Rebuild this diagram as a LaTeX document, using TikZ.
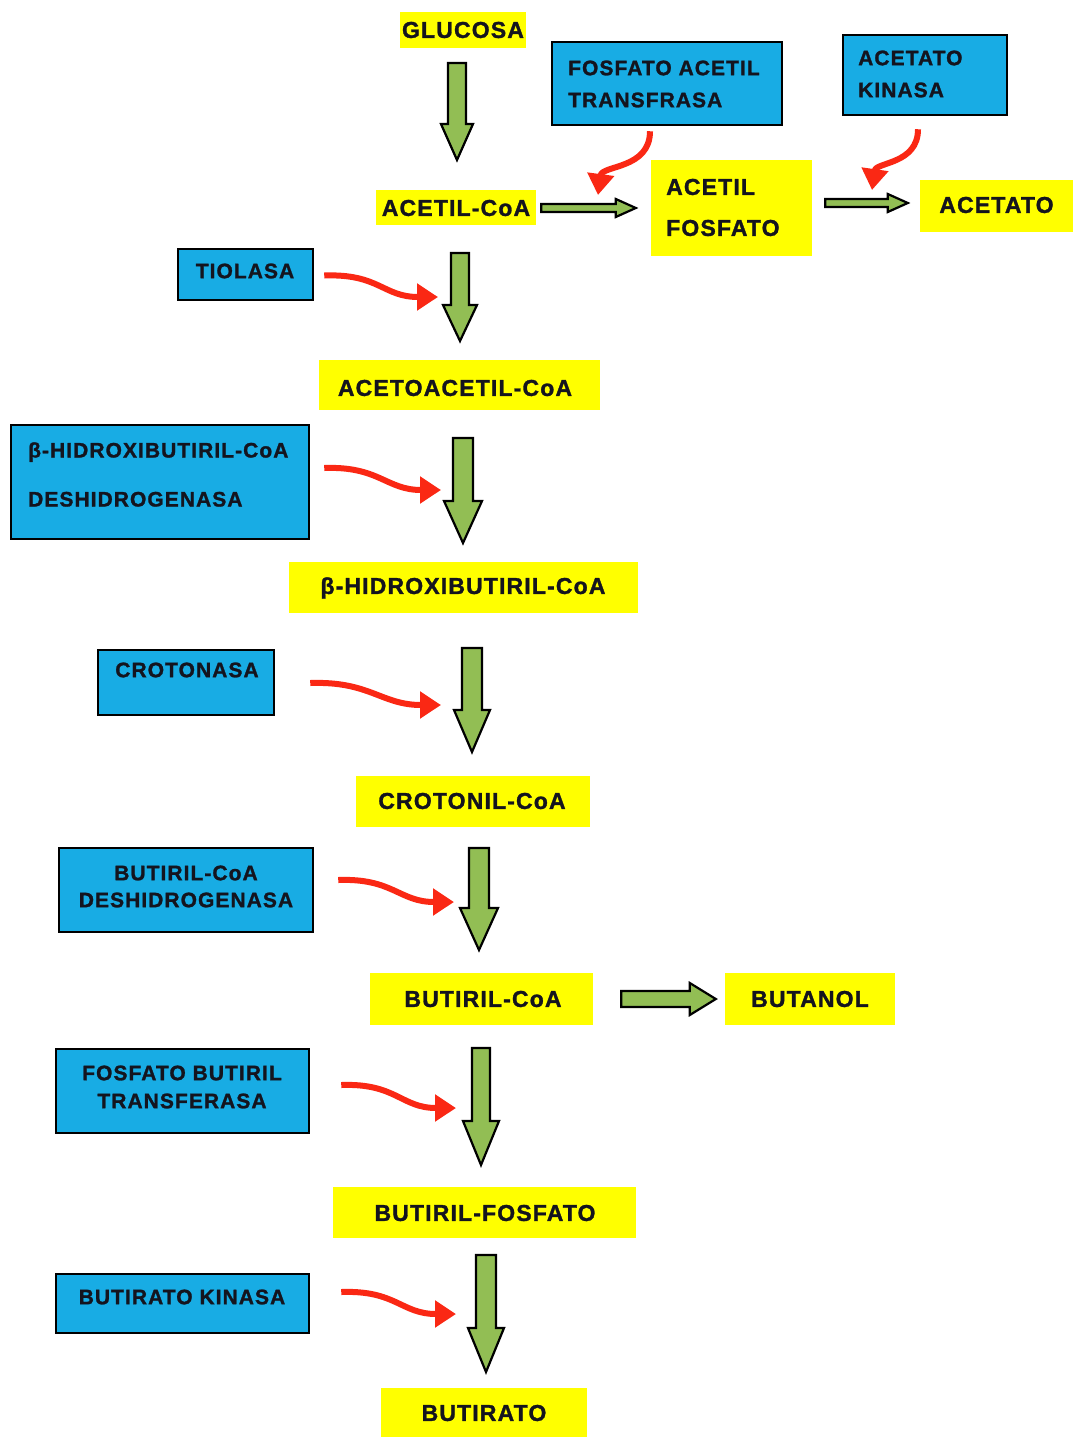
\documentclass[tikz,border=0pt]{standalone}
\usepackage{fontspec}
\setmainfont{Liberation Sans}[LetterSpace=5,BoldFeatures={FakeBold=1.3}]
\usetikzlibrary{arrows.meta,calc}
\definecolor{ybox}{RGB}{255,255,0}
\definecolor{bbox}{RGB}{24,172,228}
\definecolor{garr}{RGB}{146,190,84}
\definecolor{rarr}{RGB}{250,40,20}
\definecolor{txtc}{RGB}{20,20,30}
\newcommand{\vblock}[5]{\path[garrow] let \p1=(#1), \p2=(#2) in
  (\x1-#3pt,\y1) -- (\x1+#3pt,\y1) -- (\x1+#3pt,\y2+#5pt) -- (\x1+#4pt,\y2+#5pt)
  -- (\x1,\y2) -- (\x1-#4pt,\y2+#5pt) -- (\x1-#3pt,\y2+#5pt) -- cycle;}
\newcommand{\hblock}[5]{\path[garrow] let \p1=(#1), \p2=(#2) in
  (\x1,\y1+#3pt) -- (\x2-#5pt,\y1+#3pt) -- (\x2-#5pt,\y1+#4pt) -- (\x2,\y1)
  -- (\x2-#5pt,\y1-#4pt) -- (\x2-#5pt,\y1-#3pt) -- (\x1,\y1-#3pt) -- cycle;}
\tikzset{
  ynode/.style={fill=ybox, draw=none, inner sep=0pt},
  bnode/.style={fill=bbox, draw=black, line width=2.5pt, inner sep=0pt},
  ytxt/.style={inner sep=0pt, text=txtc, font=\fontsize{23}{32}\selectfont\bfseries},
  btxt/.style={inner sep=0pt, text=txtc, font=\fontsize{21}{32}\selectfont\bfseries},
  garrow/.style={fill=garr, draw=black, line width=2.2pt, line join=miter},
  rarrow/.style={draw=rarr, line width=6pt, -{Triangle[length=21pt,width=26pt]}},
}
\begin{document}
\begin{tikzpicture}[x=1pt,y=-1pt]
\useasboundingbox (0,0) rectangle (1073,1437);
\fill[white] (0,0) rectangle (1073,1437);

% yellow metabolite boxes
\node[ynode, minimum width=126pt, minimum height=36pt] (glucosa) at (463,30) {};
\node[ytxt] (glucosa-t) at (463,30) {GLUCOSA};
\node[ynode, minimum width=160pt, minimum height=35pt] (acetilcoa) at (456,207.5) {};
\node[ytxt] (acetilcoa-t) at (456,208) {ACETIL-CoA};
\node[ynode, minimum width=161pt, minimum height=96pt] (acetilf) at (731.5,208) {};
\node[ytxt, align=left, anchor=west, font=\fontsize{23}{41}\selectfont\bfseries] (acetilf-t) at (666,207.5) {ACETIL\\FOSFATO};
\node[ynode, minimum width=153pt, minimum height=52pt] (acetato) at (996.5,206) {};
\node[ytxt] (acetato-t) at (996.5,205) {ACETATO};
\node[ynode, minimum width=281pt, minimum height=50pt] (acetoacetil) at (459.5,385) {};
\node[ytxt] (acetoacetil-t) at (455,388) {ACETOACETIL-CoA};
\node[ynode, minimum width=349pt, minimum height=51pt] (bhidroxi) at (463.5,587.5) {};
\node[ytxt] (bhidroxi-t) at (463,588) {β-HIDROXIBUTIRIL-CoA};
\node[ynode, minimum width=234pt, minimum height=51pt] (crotonil) at (473,801.5) {};
\node[ytxt] (crotonil-t) at (472,801) {CROTONIL-CoA};
\node[ynode, minimum width=223pt, minimum height=52pt] (butirilcoa) at (481.5,999) {};
\node[ytxt] (butirilcoa-t) at (483,999) {BUTIRIL-CoA};
\node[ynode, minimum width=170pt, minimum height=52pt] (butanol) at (810,999) {};
\node[ytxt] (butanol-t) at (810,999) {BUTANOL};
\node[ynode, minimum width=303pt, minimum height=51pt] (butirilf) at (484.5,1212.5) {};
\node[ytxt] (butirilf-t) at (485,1213) {BUTIRIL-FOSFATO};
\node[ynode, minimum width=206pt, minimum height=49pt] (butirato) at (484,1412.5) {};
\node[ytxt] (butirato-t) at (484,1413) {BUTIRATO};

% blue enzyme boxes
\node[bnode, minimum width=230pt, minimum height=83pt] (fat) at (667,83.5) {};
\node[btxt, align=left, anchor=west] (fat-t) at (568,84) {FOSFATO ACETIL\\TRANSFRASA};
\node[bnode, minimum width=164pt, minimum height=80pt] (ak) at (925,75) {};
\node[btxt, align=left, anchor=west] (ak-t) at (858,74) {ACETATO\\KINASA};
\node[bnode, minimum width=135pt, minimum height=51pt] (tiolasa) at (245.5,274.5) {};
\node[btxt] (tiolasa-t) at (245,271) {TIOLASA};
\node[bnode, minimum width=298pt, minimum height=114pt] (bhd) at (160,482) {};
\node[btxt, align=left, anchor=west, font=\fontsize{21}{49}\selectfont\bfseries] (bhd-t) at (28,474.5) {β-HIDROXIBUTIRIL-CoA\\DESHIDROGENASA};
\node[bnode, minimum width=176pt, minimum height=65pt] (crotonasa) at (186,682.5) {};
\node[btxt] (crotonasa-t) at (187,670) {CROTONASA};
\node[bnode, minimum width=254pt, minimum height=84pt] (bcd) at (186,890) {};
\node[btxt, align=center, font=\fontsize{21}{27}\selectfont\bfseries] (bcd-t) at (186,886.5) {BUTIRIL-CoA\\DESHIDROGENASA};
\node[bnode, minimum width=253pt, minimum height=84pt] (fbt) at (182.5,1091) {};
\node[btxt, align=center, font=\fontsize{21}{28}\selectfont\bfseries] (fbt-t) at (182,1087) {FOSFATO BUTIRIL\\TRANSFERASA};
\node[bnode, minimum width=253pt, minimum height=59pt] (bk) at (182.5,1303.5) {};
\node[btxt] (bk-t) at (182,1297) {BUTIRATO KINASA};

% green pathway arrows
\coordinate (g1s) at (457,63);   \coordinate (g1e) at (457,160);
\coordinate (g2s) at (460,253);  \coordinate (g2e) at (460,341);
\coordinate (g3s) at (463,438);  \coordinate (g3e) at (463,543);
\coordinate (g4s) at (472,648);  \coordinate (g4e) at (472,752);
\coordinate (g5s) at (479,848);  \coordinate (g5e) at (479,950);
\coordinate (g6s) at (481,1048); \coordinate (g6e) at (481,1165);
\coordinate (g7s) at (486,1255); \coordinate (g7e) at (486,1372);
\vblock{g1s}{g1e}{9}{16}{36}
\vblock{g2s}{g2e}{9}{17}{36}
\vblock{g3s}{g3e}{10}{19}{42}
\vblock{g4s}{g4e}{10}{18}{42}
\vblock{g5s}{g5e}{10}{19}{42}
\vblock{g6s}{g6e}{9}{18}{44}
\vblock{g7s}{g7e}{10}{18}{44}

\coordinate (h1s) at ($(acetilcoa.east)+(5,0.5)$);  \coordinate (h1e) at ($(acetilf.west)+(-15,0)$);
\coordinate (h2s) at ($(acetilf.east)+(13,-5)$);    \coordinate (h2e) at ($(acetato.west)+(-12,-3)$);
\coordinate (h3s) at ($(butirilcoa.east)+(28,0)$);  \coordinate (h3e) at ($(butanol.west)+(-9,0)$);
\hblock{h1s}{h1e}{4}{9}{20}
\hblock{h2s}{h2e}{4}{9}{20}
\hblock{h3s}{h3e}{8}{16}{26}

% red enzyme arrows
\draw[rarrow] ($(fat.south)+(-17,5)$) .. controls +(0,38) and +(4,-30) .. (598,195);
\draw[rarrow] ($(ak.south)+(-7,13)$) .. controls +(0,35) and +(4,-28) .. (872,190);
\draw[rarrow] ($(tiolasa.east)+(10,1)$) .. controls +(55,-2) and +(-55,0) .. (438,297);
\draw[rarrow] ($(bhd.east)+(14,-14)$) .. controls +(55,-2) and +(-55,0) .. (441,490);
\draw[rarrow] ($(crotonasa.east)+(35,0.5)$) .. controls +(60,-2) and +(-60,0) .. (441,705);
\draw[rarrow] ($(bcd.east)+(24,-10)$) .. controls +(55,-2) and +(-55,0) .. (454,902);
\draw[rarrow] ($(fbt.east)+(31,-6)$) .. controls +(55,-2) and +(-55,0) .. (456,1108);
\draw[rarrow] ($(bk.east)+(31,-11.5)$) .. controls +(55,-2) and +(-55,0) .. (456,1314);
\end{tikzpicture}
\end{document}
